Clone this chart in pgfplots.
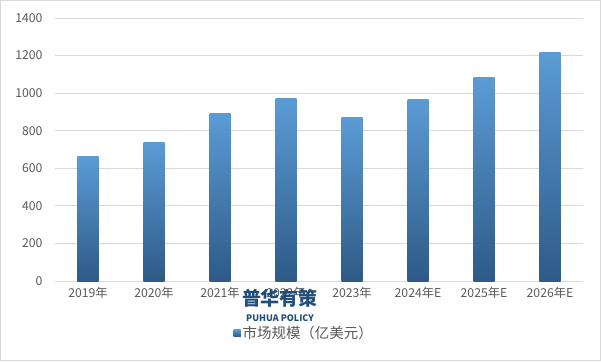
\documentclass[border=0pt]{standalone}
\usepackage{pgfplots}
\pgfplotsset{compat=1.18}
\usepackage{fontspec}
\setmainfont{Noto Sans CJK SC}
\definecolor{tickgray}{HTML}{595959}
\definecolor{gridgray}{HTML}{D9D9D9}
\definecolor{bartop}{HTML}{5B9BD5}
\definecolor{barbot}{HTML}{2E5A87}
\definecolor{wm}{HTML}{1F4E79}
\begin{document}
\begin{tikzpicture}[x=1bp,y=1bp]
\draw[gridgray, line width=1bp] (-54.5,-79.5) rectangle (545.5,280.5);
\begin{axis}[
  at={(0,0)}, anchor=south west,
  scale only axis, width=528bp, height=263bp,
  ymin=0, ymax=1400, ytick={0,200,...,1400},
  xmin=-0.5, xmax=7.5, xtick={0,...,7},
  xticklabels={2019年,2020年,2021年,2022年,2023年,2024年E,2025年E,2026年E},
  ybar, bar width=21bp, bar shift=0pt,
  axis line style={draw=none},
  ymajorgrids, grid style={gridgray, line width=0.8bp},
  major tick length=0,
  /pgf/number format/assume math mode=true,
  /pgf/number format/1000 sep={},
  tick label style={text=tickgray, font=\fontsize{12.3}{14}\selectfont},
  yticklabel style={xshift=-9bp},
  xticklabel style={yshift=-3bp},
  legend style={draw=none, at={(0.472,-0.198)}, anchor=center, font=\fontsize{14.5}{16}\selectfont, text=tickgray},
  legend image code/.code={\fill[bartop!75!barbot] (0bp,-3.5bp) rectangle (7bp,3.5bp);},
  clip=false,
  every axis plot/.append style={draw=none, top color=bartop, bottom color=barbot},
]
\addplot coordinates {(0,661)};
\addlegendentry{市场规模（亿美元）}
\addplot coordinates {(1,736)};
\addplot coordinates {(2,891)};
\addplot coordinates {(3,971)};
\addplot coordinates {(4,869)};
\addplot coordinates {(5,965)};
\addplot coordinates {(6,1083)};
\addplot coordinates {(7,1216)};
\node[font=\bfseries\fontsize{19}{20}\selectfont, text=wm] at (rel axis cs:0.426,0) [yshift=-17bp] {普华有策};
\node[font=\bfseries\fontsize{9}{10}\selectfont, text=wm] at (rel axis cs:0.426,0) [yshift=-37bp] {PUHUA POLICY};
\end{axis}
\end{tikzpicture}
\end{document}
